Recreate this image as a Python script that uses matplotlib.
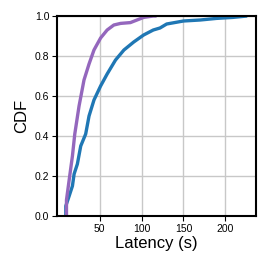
import matplotlib
matplotlib.use("Agg")
import matplotlib.pyplot as plt

plt.rcParams['font.family'] = ['Liberation Sans', 'DejaVu Sans']

# Purple series (faster)
purple_x = [10.5, 10.5, 13.7, 17.6, 20.4, 25.5, 31.4, 37.4, 43.3, 51.2, 59, 67, 75, 86.7, 94.6, 102.5, 114, 118]
purple_y = [0.0, 0.08, 0.18, 0.30, 0.41, 0.55, 0.68, 0.76, 0.83, 0.89, 0.93, 0.955, 0.963, 0.967, 0.98, 0.993, 1.0, 1.0]

# Blue series (slower)
blue_x = [9.7, 9.7, 13.7, 17.6, 19.6, 23.5, 27.5, 33.4, 37.4, 43.3, 51.2, 59, 69, 79, 90.7, 102.5, 114, 122, 130, 150, 170, 189.4, 209, 226]
blue_y = [0.0, 0.05, 0.10, 0.15, 0.21, 0.26, 0.35, 0.41, 0.50, 0.58, 0.65, 0.71, 0.78, 0.83, 0.87, 0.905, 0.93, 0.94, 0.96, 0.975, 0.98, 0.988, 0.993, 1.0]

x_ticks = [50, 100, 150, 200]
y_ticks = [0.0, 0.2, 0.4, 0.6, 0.8, 1.0]

fig = plt.figure(figsize=(2.68, 2.68), dpi=100)
ax = fig.add_axes([57/268, 1 - 216/268, (256-57)/268, (216-16)/268])

ax.plot(blue_x, blue_y, color='#1f77b4', lw=2.4, solid_capstyle='butt')
ax.plot(purple_x, purple_y, color='#9467bd', lw=2.4, solid_capstyle='butt')

ax.set_ylim(0, 1)
ax.set_xlim(-0.8, 236.5)
ax.set_xticks(x_ticks)
ax.set_yticks(y_ticks)
ax.set_yticklabels([f"{v:.1f}" for v in y_ticks])
ax.grid(True, color='#c8c8c8', lw=1.0)
ax.set_axisbelow(True)
for s in ax.spines.values():
    s.set_color('black')
    s.set_linewidth(1.5)
ax.tick_params(labelsize=7.5, length=3.5, width=0.8, pad=2)
ax.set_xlabel('Latency (s)', fontsize=12, labelpad=2)
ax.set_ylabel('CDF', fontsize=12, labelpad=4)

fig.savefig('out.png', dpi=100)
